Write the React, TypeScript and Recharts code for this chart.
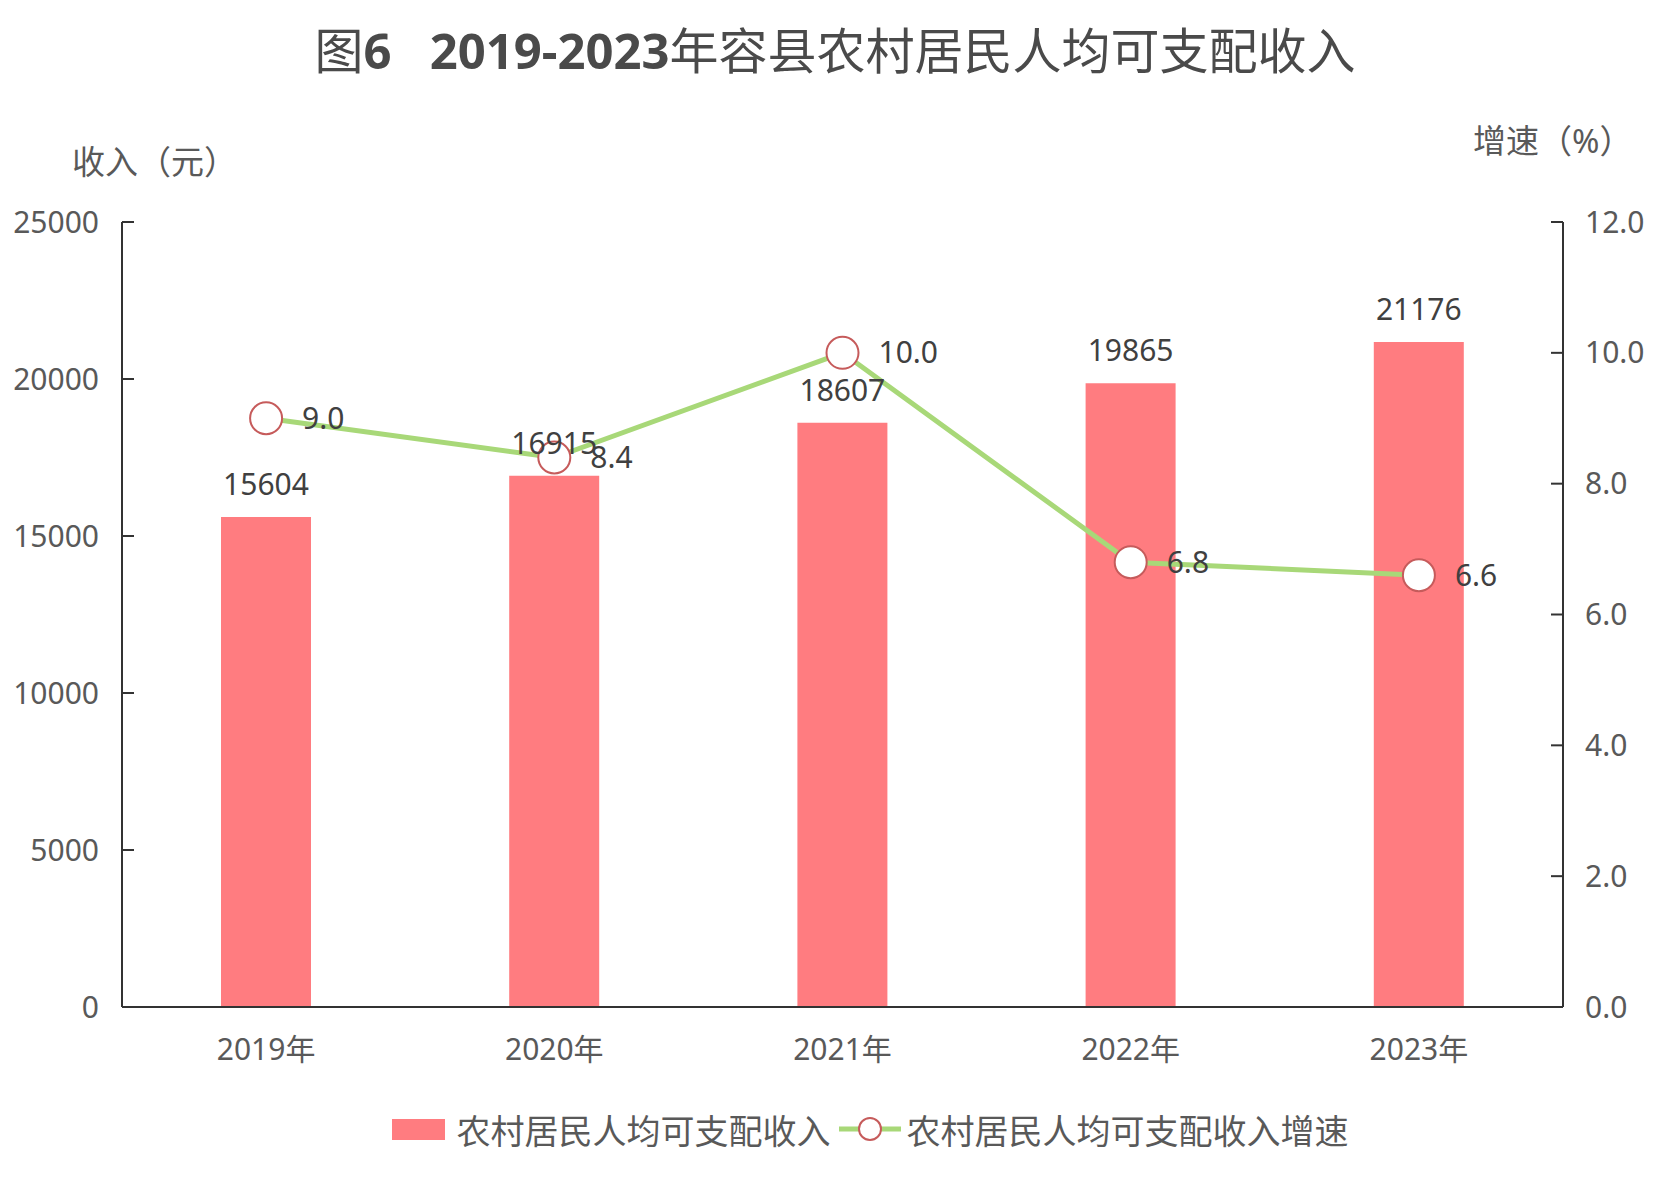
import React from 'react'
import { ComposedChart, Bar, Line, XAxis, YAxis, LabelList, Legend } from 'recharts'

const FONT = '"Noto Sans", "Noto Sans CJK SC", sans-serif'

const years = ['2019年', '2020年', '2021年', '2022年', '2023年']
const income = [15604, 16915, 18607, 19865, 21176]
const growth = [9.0, 8.4, 10.0, 6.8, 6.6]
const incomeTicks = [0, 5000, 10000, 15000, 20000, 25000]
const growthTicks = [0, 2, 4, 6, 8, 10, 12]

const data = years.map((year, i) => ({ year, income: income[i], growth: growth[i] }))

const BAR_COLOR = '#FF7C80'
const LINE_COLOR = '#A8D878'
const DOT_STROKE = '#C65B5B'
const AXIS_COLOR = '#333333'
const TEXT_COLOR = '#595959'
const LABEL_COLOR = '#404040'

// ticks point inward on both value axes, so draw them ourselves
// eslint-disable-next-line @typescript-eslint/no-explicit-any
function LeftTick({ x, y, payload }: any) {
  return (
    <g>
      <line x1={x + 23} x2={x + 35} y1={y} y2={y} stroke={AXIS_COLOR} strokeWidth={2} />
      <text x={x} y={y} dy="0.35em" textAnchor="end" fill={TEXT_COLOR} fontSize={30} fontFamily={FONT}>
        {payload.value}
      </text>
    </g>
  )
}

// eslint-disable-next-line @typescript-eslint/no-explicit-any
function RightTick({ x, y, payload }: any) {
  return (
    <g>
      <line x1={x - 22} x2={x - 34} y1={y} y2={y} stroke={AXIS_COLOR} strokeWidth={2} />
      <text x={x} y={y} dy="0.35em" textAnchor="start" fill={TEXT_COLOR} fontSize={30} fontFamily={FONT}>
        {Number(payload.value).toFixed(1)}
      </text>
    </g>
  )
}

function CustomLegend() {
  return (
    <div
      style={{
        display: 'flex',
        justifyContent: 'center',
        alignItems: 'center',
        height: 50,
        paddingLeft: 80,
        fontFamily: FONT,
        fontSize: 34,
        color: TEXT_COLOR,
        whiteSpace: 'nowrap',
      }}
    >
      <span style={{ display: 'inline-block', width: 53, height: 21, background: BAR_COLOR, marginRight: 12 }} />
      <span>农村居民人均可支配收入</span>
      <svg width={62} height={30} style={{ marginLeft: 8, marginRight: 6 }}>
        <line x1={0} x2={62} y1={15} y2={15} stroke={LINE_COLOR} strokeWidth={5} />
        <circle cx={31} cy={15} r={11} fill="#fff" stroke={DOT_STROKE} strokeWidth={2} />
      </svg>
      <span>农村居民人均可支配收入增速</span>
    </div>
  )
}

export default function App() {
  return (
    <div style={{ position: 'absolute', left: 0, top: 0, width: 1660, height: 1195, background: '#fff' }}>
      <div
        style={{
          position: 'absolute',
          left: 0,
          top: 0,
          width: 1660,
          paddingLeft: 10,
          boxSizing: 'border-box',
          textAlign: 'center',
          lineHeight: '100px',
          fontSize: 49,
          color: '#4a4a4a',
          fontFamily: FONT,
          whiteSpace: 'pre',
        }}
      >
        图<b>6{'   '}2019-2023</b>年容县农村居民人均可支配收入
      </div>
      <div
        style={{
          position: 'absolute',
          left: 72,
          top: 142,
          lineHeight: '40px',
          fontSize: 33,
          color: TEXT_COLOR,
          fontFamily: FONT,
        }}
      >
        收入（元）
      </div>
      <div
        style={{
          position: 'absolute',
          left: 1473,
          top: 121,
          lineHeight: '40px',
          fontSize: 33,
          color: TEXT_COLOR,
          fontFamily: FONT,
        }}
      >
        增速（%）
      </div>
      <ComposedChart
        width={1660}
        height={1195}
        data={data}
        margin={{ top: 222, right: 0, left: 0, bottom: 41 }}
        barCategoryGap="34%"
      >
        <XAxis
          dataKey="year"
          height={97}
          axisLine={{ stroke: AXIS_COLOR, strokeWidth: 2 }}
          tickLine={false}
          tickSize={0}
          tickMargin={32}
          tick={{ fill: TEXT_COLOR, fontSize: 30, fontFamily: FONT }}
        />
        <YAxis
          yAxisId="left"
          orientation="left"
          width={122}
          domain={[0, 25000]}
          ticks={incomeTicks}
          interval={0}
          axisLine={{ stroke: AXIS_COLOR, strokeWidth: 2 }}
          tickLine={false}
          tickSize={0}
          tickMargin={23}
          tick={<LeftTick />}
        />
        <YAxis
          yAxisId="right"
          orientation="right"
          width={97}
          domain={[0, 12]}
          ticks={growthTicks}
          interval={0}
          axisLine={{ stroke: AXIS_COLOR, strokeWidth: 2 }}
          tickLine={false}
          tickSize={0}
          tickMargin={22}
          tick={<RightTick />}
        />
        <Legend verticalAlign="bottom" content={<CustomLegend />} wrapperStyle={{ height: 50 }} />
        <Bar
          yAxisId="left"
          dataKey="income"
          name="农村居民人均可支配收入"
          fill={BAR_COLOR}
          barSize={90}
          isAnimationActive={false}
        >
          <LabelList dataKey="income" position="top" offset={22} fill={LABEL_COLOR} fontSize={30} fontFamily={FONT} />
        </Bar>
        <Line
          yAxisId="right"
          dataKey="growth"
          name="农村居民人均可支配收入增速"
          stroke={LINE_COLOR}
          strokeWidth={5}
          dot={{ r: 16, fill: '#fff', stroke: DOT_STROKE, strokeWidth: 2 }}
          activeDot={false}
          isAnimationActive={false}
        >
          <LabelList
            dataKey="growth"
            position="right"
            offset={36}
            fill={LABEL_COLOR}
            fontSize={30}
            fontFamily={FONT}
            formatter={(v: number) => Number(v).toFixed(1)}
          />
        </Line>
      </ComposedChart>
    </div>
  )
}
